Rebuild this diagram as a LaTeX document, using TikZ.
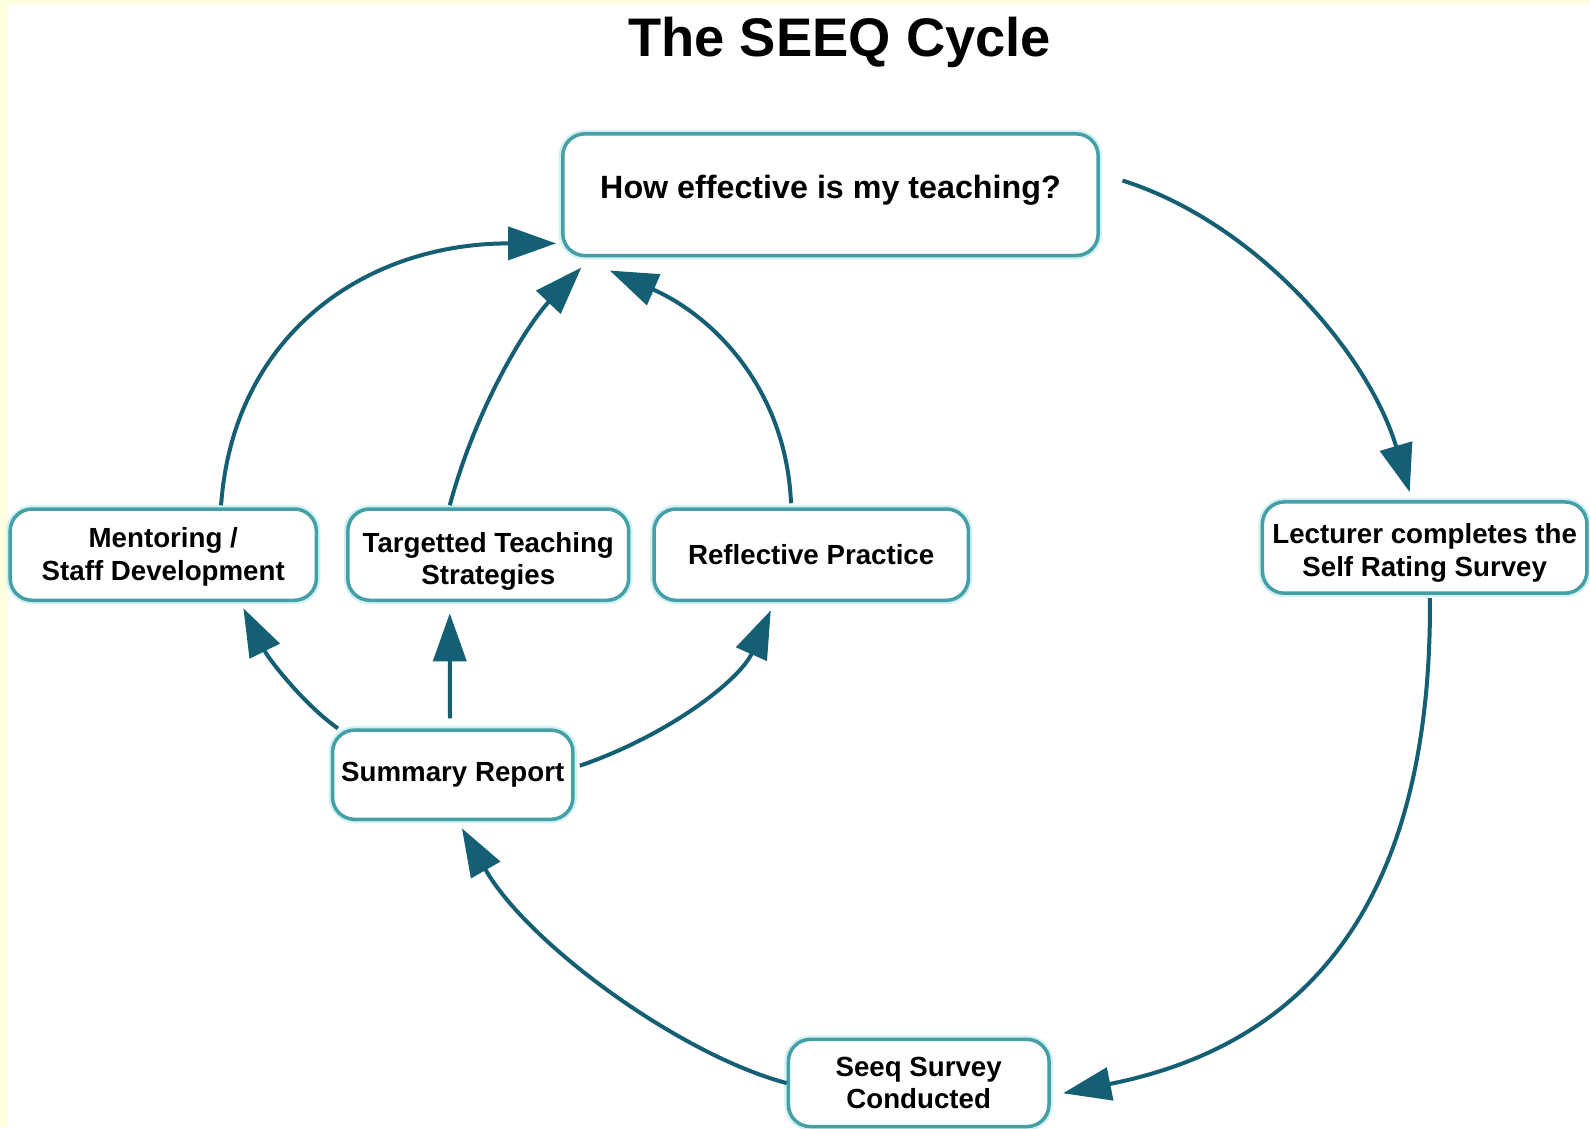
\documentclass[tikz,border=0pt]{standalone}
\usepackage{fontspec}
\setmainfont{Liberation Sans}
\usetikzlibrary{arrows.meta,calc}
\definecolor{bgyellow}{HTML}{FFFFE0}
\definecolor{boxline}{HTML}{449FA6}
\definecolor{arrowcol}{HTML}{145F74}
\definecolor{glow}{HTML}{D2F1F3}
\newcommand{\shiftlines}[2]{\raisebox{#1}[\height][\depth]{\begin{tabular}{@{}c@{}}#2\end{tabular}}}
\begin{document}
\begin{tikzpicture}[x=1pt,y=-1pt,
  box/.style={draw=boxline, line width=3.5pt, rounded corners=22pt, fill=white,
    preaction={draw=glow, line width=8pt},
    align=center, inner sep=0pt, font=\fontsize{27.3}{32}\selectfont\bfseries},
  conn/.style={draw=arrowcol, line width=4pt, -{Triangle[length=48pt,width=33pt]}},
  titlestyle/.style={font=\fontsize{53.6}{60}\selectfont\bfseries}
]
\fill[bgyellow] (0,0) rectangle (1590,1128);
\fill[white] (8,4) rectangle (1590,1128);
\useasboundingbox (0,0) rectangle (1590,1128);

\begin{scope}[scale=1.014, transform shape]
\node[titlestyle] (title) at (828,42) {The SEEQ Cycle};

\node[box, minimum width=528pt, minimum height=120pt] (top) at (819,192) {\raisebox{4pt}[\height][\depth]{\fontsize{31.8}{36}\selectfont How effective is my teaching?}};
\node[box, minimum width=302pt, minimum height=90pt] (ment) at (161,547) {\shiftlines{-3pt}{Mentoring /\\Staff Development}};
\node[box, minimum width=277pt, minimum height=90pt] (targ) at (481.5,547) {\shiftlines{-7pt}{Targetted Teaching\\Strategies}};
\node[box, minimum width=310pt, minimum height=90pt] (refl) at (800,547) {Reflective Practice};
\node[box, minimum width=320pt, minimum height=90pt] (lec) at (1405,540) {\shiftlines{-6pt}{Lecturer completes the\\Self Rating Survey}};
\node[box, minimum width=237pt, minimum height=88pt] (summ) at (446.5,764) {Summary Report};
\node[box, minimum width=257pt, minimum height=86pt] (seeq) at (906,1068) {Seeq Survey\\Conducted};

\draw[conn] ($(top.east)+(22,-14)$) .. controls (1240,220) and (1350,350) .. ($(lec.north)+(-15,-8)$);
\draw[conn] ($(lec.south)+(5,3)$) .. controls (1412,890) and (1290,1030) .. ($(seeq.east)+(12,10)$);
\draw[conn] (seeq.west) .. controls (670,1040) and (520,930) .. ($(summ.south)+(9,7)$);
\draw[conn] ($(summ.north west)+(7,0)$) .. controls (300,695) and (265,650) .. ($(ment.south)+(79,6)$);
\draw[conn] ($(summ.north)+(-3,-10)$) -- ($(targ.south)+(-38,11)$);
\draw[conn] ($(summ.east)+(5,-9)$) .. controls (660,725) and (730,670) .. ($(refl.south)+(-40,8)$);
\draw[conn] ($(ment.north)+(57,-2)$) .. controls (230,330) and (360,240) .. ($(top.west)+(-5,48)$);
\draw[conn] ($(targ.north)+(-38,-2)$) .. controls (470,400) and (520,320) .. ($(top.south west)+(20,10)$);
\draw[conn] ($(refl.north)+(-20,-4)$) .. controls (775,380) and (700,310) .. ($(top.south west)+(48,13)$);
\end{scope}
\end{tikzpicture}
\end{document}
